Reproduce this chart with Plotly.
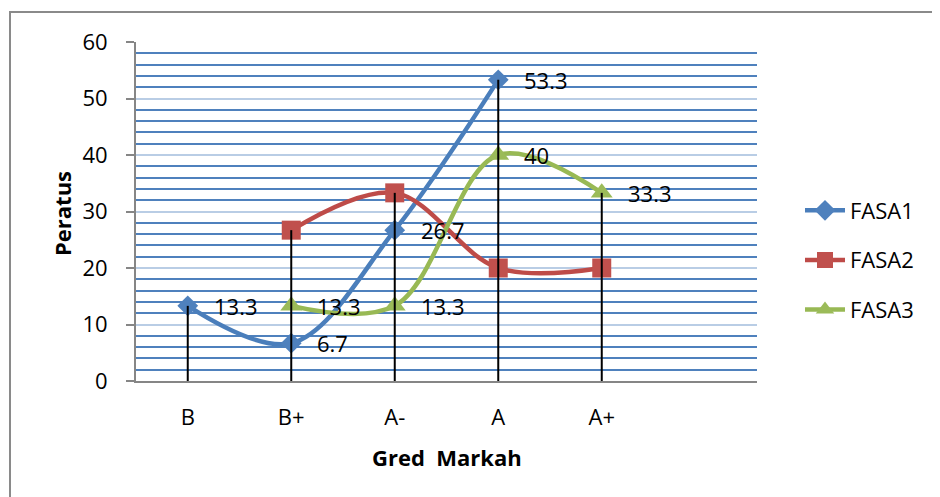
import plotly.graph_objects as go

categories = ["B", "B+", "A-", "A", "A+"]
fasa1 = [13.3, 6.7, 26.7, 53.3, None]
fasa2 = [None, 26.7, 33.3, 20, 20]
fasa3 = [None, 13.3, 13.3, 40, 33.3]

FONT = "Open Sans"
W, H = 940, 497
OFF = 8  # page body margin
PL, PR, PT, PB = 136, 757, 42, 381  # plot area in page pixels
L, T = PL - OFF, PT - OFF
R, B = W - (PR - OFF), H - (PB - OFF)
pw, ph = PR - PL, PB - PT


def px(x):
    return (x - PL) / pw


def py(y):
    return (PB - y) / ph


xs = list(range(len(categories)))

fig = go.Figure()

series = [
    ("FASA1", fasa1, "#4a7ebb", "#4f81bd", "diamond", 16),
    ("FASA2", fasa2, "#be4b48", "#c0504d", "square", 19),
    ("FASA3", fasa3, "#98b954", "#9bbb59", "triangle-up", 19),
]
for i, (name, vals, lc, mc, sym, sz) in enumerate(series):
    fig.add_trace(go.Scatter(
        x=xs, y=vals, name=name, mode="lines+markers",
        line=dict(color=lc, width=4.5, shape="spline", smoothing=1.0),
        marker=dict(symbol=sym, size=sz, color=mc, line=dict(width=0)),
        legendgroup=name, connectgaps=False,
    ))

# drop lines from highest value to axis
dx, dy = [], []
for i in xs:
    vals = [v for v in (fasa1[i], fasa2[i], fasa3[i]) if v is not None]
    dx += [i, i, None]
    dy += [max(vals), 0, None]
fig.add_trace(go.Scatter(x=dx, y=dy, mode="lines", line=dict(color="black", width=2),
                         showlegend=False, hoverinfo="skip"))

annotations = []
for vals in (fasa1, fasa3):
    for i, v in enumerate(vals):
        if v is None:
            continue
        annotations.append(dict(x=i, y=v, xref="x", yref="y", text=f"{v:g}",
                                showarrow=False, xanchor="left", yanchor="middle",
                                xshift=24, font=dict(family=FONT, size=22, color="black")))

annotations.append(dict(x=px(447), y=py(457), xref="paper", yref="paper",
                        text="<b>Gred\u00a0\u00a0Markah</b>", xanchor="center", yanchor="middle",
                        showarrow=False, font=dict(family=FONT, size=22, color="black")))
annotations.append(dict(x=px(62), y=py(214), xref="paper", yref="paper",
                        text="<b>Peratus</b>", textangle=-90, xanchor="center", yanchor="middle",
                        showarrow=False, font=dict(family=FONT, size=22, color="black")))

fig.update_layout(
    width=W, height=H,
    margin=dict(l=L, r=R, t=T, b=B),
    paper_bgcolor="white", plot_bgcolor="white",
    font=dict(family=FONT, size=22, color="black"),
    showlegend=True,
    legend=dict(x=px(800), y=py(260), xanchor="left", yanchor="middle",
                font=dict(family=FONT, size=22, color="black"),
                traceorder="grouped", tracegroupgap=18, itemwidth=40,
                bgcolor="rgba(0,0,0,0)"),
    annotations=annotations,
    shapes=[dict(type="rect", xref="paper", yref="paper",
                 x0=px(10), x1=2, y0=-2, y1=py(12),
                 line=dict(color="#8a8a8a", width=2), fillcolor="rgba(0,0,0,0)", layer="below")],
)

fig.update_xaxes(
    range=[-0.5, 5.5], tickvals=xs, ticktext=categories,
    showgrid=False, zeroline=False, showline=True, linecolor="#868686", linewidth=2,
    ticks="", ticklabelstandoff=16, tickfont=dict(family=FONT, size=22, color="black"),
)
fig.update_yaxes(
    range=[0, 60], dtick=10, tick0=0,
    showgrid=True, gridcolor="#b9cde5", gridwidth=2,
    minor=dict(dtick=2, showgrid=True, gridcolor="#4f81bd", gridwidth=1.5),
    zeroline=False, showline=True, linecolor="#868686", linewidth=2,
    ticks="outside", ticklen=8, tickcolor="#868686", tickwidth=1.5,
    ticklabelstandoff=14, tickfont=dict(family=FONT, size=22, color="black"),
)

fig.write_html("out.html")
